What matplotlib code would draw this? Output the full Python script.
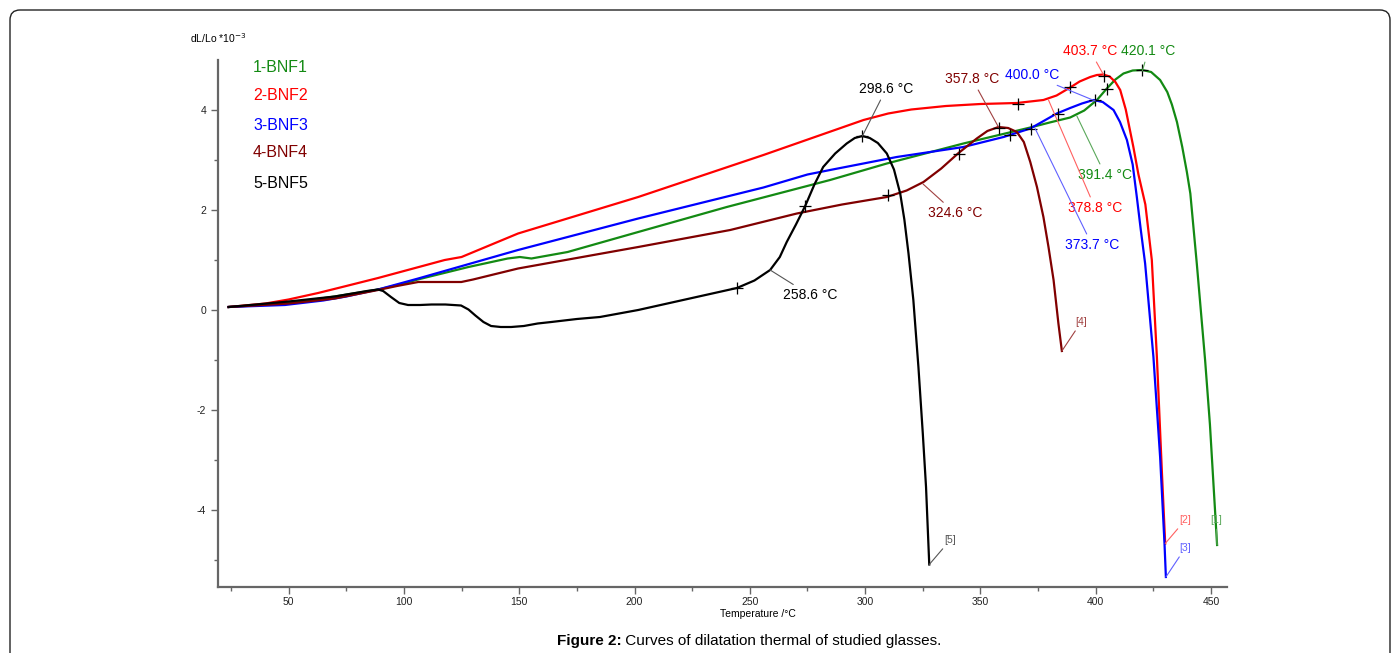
import matplotlib
matplotlib.use('Agg')
import matplotlib.pyplot as plt
from matplotlib.ticker import MultipleLocator
from matplotlib.patches import FancyBboxPatch

plt.rcParams['font.family'] = ['Liberation Sans', 'DejaVu Sans']
plt.rcParams['axes.unicode_minus'] = False

# curves (temperature in °C, dL/Lo in 1e-3)
t1 = [24, 40, 55, 70, 88.8, 100, 106, 128, 145, 150.3, 155.3, 171, 201.6, 240, 284.8,
      309.4, 342.6, 371.6, 380, 388.9, 395, 400.5, 404.8, 408.5, 412, 416, 420.2, 424,
      427.9, 431, 433, 435.2, 437.5, 439.5, 441, 443.8, 447.4, 449.5, 452.6]
y1 = [0.05, 0.1, 0.16, 0.26, 0.40, 0.52, 0.6, 0.85, 1.02, 1.05, 1.02, 1.15, 1.55, 2.05, 2.59,
      2.92, 3.32, 3.64, 3.74, 3.84, 3.98, 4.19, 4.42, 4.6, 4.72, 4.78, 4.79, 4.75,
      4.59, 4.35, 4.1, 3.75, 3.25, 2.75, 2.32, 0.92, -1.01, -2.3, -4.71]

t2 = [24, 40, 50, 62.8, 75, 88.8, 110.5, 117.7, 125, 149.5, 201.6, 255.9, 299.3, 310, 320,
      335, 350, 365.8, 377.3, 383, 388.9, 393, 397.6, 400.5, 403.3, 406, 408.5, 410.6,
      413, 416.3, 418.5, 421.5, 424.3, 426.5, 428.7, 430.1]
y2 = [0.05, 0.12, 0.2, 0.33, 0.47, 0.63, 0.9, 0.99, 1.05, 1.52, 2.25, 3.09, 3.79, 3.92, 4.0,
      4.07, 4.11, 4.13, 4.19, 4.28, 4.44, 4.56, 4.65, 4.69, 4.70, 4.66, 4.55, 4.39,
      4.0, 3.25, 2.7, 2.1, 0.99, -0.95, -3.28, -4.68]

t3 = [24, 48.4, 65, 75, 88.8, 106.2, 149.5, 201.6, 255.9, 275, 284.8, 313.7, 342.6, 360,
      371.6, 377, 383.1, 388.9, 394, 399, 403, 407.7, 410.5, 413.5, 416, 417.8, 419.5,
      421.4, 425, 427.9, 429.8, 430.4]
y3 = [0.05, 0.09, 0.18, 0.26, 0.40, 0.62, 1.19, 1.82, 2.44, 2.70, 2.79, 3.05, 3.25, 3.45,
      3.62, 3.76, 3.92, 4.03, 4.12, 4.19, 4.15, 3.99, 3.75, 3.39, 2.9, 2.25, 1.6,
      0.92, -0.95, -2.95, -4.68, -5.35]

t4 = [24, 50, 70, 88.8, 97, 106.2, 115, 124.9, 130, 149.5, 201.6, 241.5, 270.4, 290, 309.4,
      318, 325.3, 333, 340.5, 348.4, 353, 357.8, 362, 365.8, 368.8, 371.6, 374.5, 377.3,
      379.5, 381.7, 383.8, 385.3]
y4 = [0.05, 0.12, 0.22, 0.39, 0.47, 0.55, 0.55, 0.55, 0.6, 0.82, 1.25, 1.59, 1.92, 2.1, 2.25,
      2.38, 2.55, 2.82, 3.13, 3.42, 3.57, 3.65, 3.63, 3.55, 3.35, 2.95, 2.45, 1.85,
      1.25, 0.59, -0.28, -0.83]

t5 = [24, 50, 70, 84, 88.8, 91, 94.4, 98, 101.8, 107, 112, 118, 124.8, 128, 131, 134.5,
      137.8, 142, 146.5, 152, 158, 163.9, 175, 185, 201.6, 244.4, 252, 258.8, 263, 266,
      270, 274, 278, 281.8, 287, 292, 295.5, 298.8, 302, 305.5, 309.4, 312.5, 315.2, 317,
      318.8, 320.9, 323.1, 325, 326.4, 327.8]
y5 = [0.05, 0.16, 0.26, 0.37, 0.40, 0.37, 0.25, 0.13, 0.09, 0.09, 0.10, 0.10, 0.08, 0.0,
      -0.12, -0.25, -0.33, -0.35, -0.35, -0.33, -0.28, -0.25, -0.19, -0.15, -0.01, 0.43,
      0.58, 0.79, 1.05, 1.35, 1.7, 2.07, 2.5, 2.85, 3.12, 3.32, 3.43, 3.47, 3.43, 3.33,
      3.12, 2.8, 2.32, 1.8, 1.12, 0.19, -1.15, -2.48, -3.55, -5.1]

names = ['1-BNF1', '2-BNF2', '3-BNF3', '4-BNF4', '5-BNF5']
colors = ['#138a13', '#ff0000', '#0000ff', '#800000', '#000000']
temps = [t1, t2, t3, t4, t5]
vals = [y1, y2, y3, y4, y5]

# characteristic temperatures: label, point on curve, text position, colour index
notes = [
    ('298.6 °C', 298.8, 3.47, 309.1, 4.41, 4),
    ('258.6 °C', 258.8, 0.79, 276.1, 0.29, 4),
    ('324.6 °C', 325.1, 2.51, 339.0, 1.93, 3),
    ('357.8 °C', 357.8, 3.65, 346.4, 4.61, 3),
    ('400.0 °C', 399.8, 4.17, 372.4, 4.69, 2),
    ('403.7 °C', 403.3, 4.70, 397.6, 5.17, 1),
    ('420.1 °C', 420.2, 4.77, 422.7, 5.17, 0),
    ('391.4 °C', 391.8, 3.87, 404.1, 2.69, 0),
    ('378.8 °C', 379.5, 4.19, 399.7, 2.03, 1),
    ('373.7 °C', 373.7, 3.62, 398.4, 1.29, 2),
]
marks_t = [244.4, 274, 298.8, 309.7, 340.5, 358, 362.6, 372, 366.3, 383.6, 388.9, 399.8,
           403.5, 405, 420.2]
marks_y = [0.43, 2.07, 3.47, 2.30, 3.12, 3.64, 3.50, 3.62, 4.12, 3.92, 4.44, 4.19,
           4.68, 4.42, 4.79]
# end labels [n]
ends = [('[1]', 452.2, -4.21), ('[2]', 438.8, -4.21), ('[3]', 438.8, -4.77),
        ('[4]', 393.7, -0.25), ('[5]', 336.9, -4.61)]

W, H = 1398, 653
fig = plt.figure(figsize=(W / 100, H / 100), dpi=100)
ax = fig.add_axes([218 / W, 1 - 587 / H, (1227 - 218) / W, (587 - 60) / H])

for t, v, c in zip(temps, vals, colors):
    ax.plot(t, v, color=c, lw=1.6, solid_joinstyle='round')

ax.plot(marks_t, marks_y, '+', color='black', ms=8, mew=0.9, ls='none')

light = ['#5aa85a', '#ff6060', '#6060ff', '#a04040', '#555555']
for lab, px, py, tx, ty, ci in notes:
    ax.annotate(lab, xy=(px, py), xytext=(tx, ty), ha='center', va='center',
                fontsize=10, color=colors[ci], annotation_clip=False,
                arrowprops=dict(arrowstyle='-', color=light[ci], lw=0.8,
                                shrinkA=1, shrinkB=0))

for i, (lab, tx, ty) in enumerate(ends):
    ax.annotate(lab, xy=(temps[i][-1], vals[i][-1]), xytext=(tx, ty), ha='center',
                va='center', fontsize=7.5, color=light[i],
                arrowprops=dict(arrowstyle='-', color=light[i], lw=0.8,
                                shrinkA=1, shrinkB=0))

for i, (n, c) in enumerate(zip(names, colors)):
    fig.text(253 / W, 1 - [68, 95, 125, 152, 183][i] / H, n, color=c, fontsize=11.5,
             ha='left', va='center')

ax.set_xlim(19.4, 456.9)
ax.set_ylim(-5.55, 4.99)
ax.set_xticks(range(50, 451, 50))
ax.xaxis.set_minor_locator(MultipleLocator(25))
ax.set_yticks([-4, -2, 0, 2, 4])
ax.yaxis.set_minor_locator(MultipleLocator(1))
ax.tick_params(which='major', length=5, width=1, color='#666666', labelsize=7.5,
               labelcolor='#222222')
ax.tick_params(axis='x', which='major', pad=2)
ax.tick_params(which='minor', length=3, width=1, color='#666666')
for s in ['top', 'right']:
    ax.spines[s].set_visible(False)
for s in ['left', 'bottom']:
    ax.spines[s].set_color('#666666')
    ax.spines[s].set_linewidth(1.6)

fig.text(190 / W, 1 - 38 / H, 'dL/Lo *10$^{-3}$', fontsize=7.5, ha='left', va='center')
fig.text(758 / W, 1 - 614 / H, 'Temperature /°C', fontsize=7.5, ha='center', va='center')

# caption below the chart
cy = 1 - 641 / H
cap_b = fig.text(0, cy, 'Figure 2:', fontsize=11, weight='bold', va='center')
cap_n = fig.text(0, cy, ' Curves of dilatation thermal of studied glasses.', fontsize=11,
                 va='center')
r = fig.canvas.get_renderer()
wb = cap_b.get_window_extent(r).width
wn = cap_n.get_window_extent(r).width
x0 = 749 - (wb + wn) / 2
cap_b.set_x(x0 / W)
cap_n.set_x((x0 + wb) / W)

# rounded frame around the figure
frame = FancyBboxPatch((0.1, -0.2), 13.8, 6.43 + 0.2,
                       boxstyle='round,pad=0,rounding_size=0.1',
                       transform=fig.dpi_scale_trans, fill=False,
                       edgecolor='#222222', lw=1.0)
fig.patches.append(frame)

fig.savefig('out.png', dpi=100)
